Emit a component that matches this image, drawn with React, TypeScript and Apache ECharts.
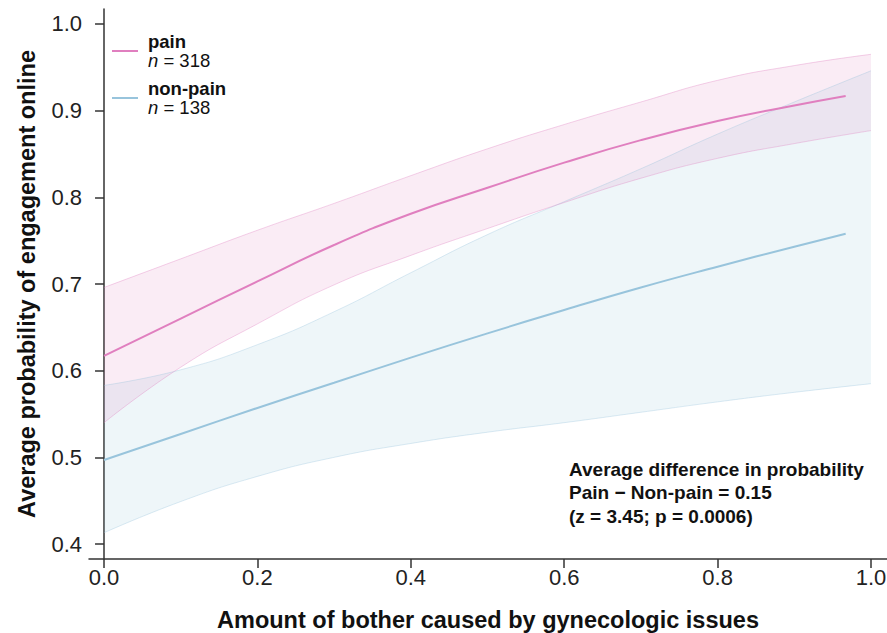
import React, { useEffect, useRef } from "react";
import * as echarts from "echarts";

// ---- data ----
const bandX = [0, 0.1, 0.2, 0.3, 0.4, 0.5, 0.6, 0.7, 0.8, 0.9, 1.0];
const painLower = [0.540, 0.604, 0.654, 0.699, 0.733, 0.764, 0.794, 0.822, 0.845, 0.862, 0.877];
const painUpper = [0.696, 0.729, 0.762, 0.793, 0.825, 0.856, 0.884, 0.910, 0.935, 0.952, 0.965];
const nonPainLower = [0.413, 0.449, 0.478, 0.500, 0.516, 0.529, 0.540, 0.552, 0.564, 0.575, 0.585];
const nonPainUpper = [0.583, 0.601, 0.630, 0.668, 0.713, 0.757, 0.795, 0.833, 0.873, 0.910, 0.946];

const lineX = [0, 0.1, 0.2, 0.3, 0.4, 0.5, 0.6, 0.7, 0.8, 0.9, 0.967];
const painMean = [0.617, 0.660, 0.703, 0.745, 0.781, 0.811, 0.840, 0.866, 0.888, 0.906, 0.917];
const nonPainMean = [0.497, 0.527, 0.557, 0.586, 0.615, 0.643, 0.670, 0.696, 0.720, 0.743, 0.758];

const groupNames = ["pain", "non-pain"];
const groupN = [318, 138];

const xTicks = [0, 0.2, 0.4, 0.6, 0.8, 1.0];
const yTicks = [0.4, 0.5, 0.6, 0.7, 0.8, 0.9, 1.0];

const annotationLines = [
  "Average difference in probability",
  "Pain \u2212 Non-pain = 0.15",
  "(z = 3.45; p = 0.0006)",
];

const FONT = "'Liberation Sans', Arial, Helvetica, sans-serif";
const PINK = "#e07fbf";
const BLUE = "#98c4dc";

// Band = stacked pair of smooth lines. The y value is put in the first
// column so that ECharts stacks y (not x) when both axes are numeric.
function bandSeries(key: string, lower: number[], upper: number[], fill: string, stroke: string) {
  return [
    {
      type: "line",
      name: key + " lower",
      stack: key,
      data: bandX.map((x, i) => [lower[i], x]),
      encode: { x: 1, y: 0 },
      smooth: true,
      symbol: "none",
      silent: true,
      lineStyle: { color: stroke, width: 1 },
      z: 1,
    },
    {
      type: "line",
      name: key + " upper",
      stack: key,
      data: bandX.map((x, i) => [upper[i] - lower[i], x]),
      encode: { x: 1, y: 0 },
      smooth: true,
      symbol: "none",
      silent: true,
      lineStyle: { color: stroke, width: 1 },
      areaStyle: { color: fill, opacity: 1 },
      z: 1,
    },
  ];
}

export default function App() {
  const ref = useRef<HTMLDivElement>(null);
  useEffect(() => {
    if (!ref.current) return;
    const chart = echarts.init(ref.current, undefined, { renderer: "svg" });
    const option: any = {
      animation: false,
      backgroundColor: "#ffffff",
      grid: { left: 89, right: 0, top: 9, bottom: 74, containLabel: false, outerBoundsMode: "none" },
      xAxis: {
        type: "value",
        min: -0.0196,
        max: 1.0209,
        name: "Amount of bother caused by gynecologic issues",
        nameLocation: "middle",
        nameGap: 49,
        nameTextStyle: { fontFamily: FONT, fontSize: 23.5, fontWeight: "bold", color: "#111" },
        axisLine: { show: true, lineStyle: { color: "#333", width: 1.5 } },
        axisTick: { show: true, length: 9, customValues: xTicks, lineStyle: { color: "#333", width: 1.5 } },
        axisLabel: {
          customValues: xTicks,
          margin: 7,
          fontFamily: FONT,
          fontSize: 22,
          color: "#222",
          formatter: (v: number) => v.toFixed(1),
        },
        splitLine: { show: false },
      },
      yAxis: {
        type: "value",
        min: 0.3827,
        max: 1.0173,
        name: "Average probability of engagement online",
        nameLocation: "middle",
        nameGap: 50,
        nameTextStyle: { fontFamily: FONT, fontSize: 23.5, fontWeight: "bold", color: "#111" },
        axisLine: { show: true, lineStyle: { color: "#333", width: 1.5 } },
        axisTick: { show: true, length: 9, customValues: yTicks, lineStyle: { color: "#333", width: 1.5 } },
        axisLabel: {
          customValues: yTicks,
          margin: 7,
          fontFamily: FONT,
          fontSize: 22,
          color: "#222",
          formatter: (v: number) => v.toFixed(1),
        },
        splitLine: { show: false },
      },
      legend: {
        data: groupNames,
        orient: "vertical",
        left: 107,
        top: 27,
        icon: "rect",
        itemWidth: 26,
        itemHeight: 2,
        itemGap: 9,
        selectedMode: false,
        formatter: (name: string) => {
          const i = groupNames.indexOf(name);
          return `{b|${name}}\n{i|n}{r| = ${groupN[i]}}`;
        },
        textStyle: {
          padding: [0, 0, 0, 5],
          rich: {
            b: { fontFamily: FONT, fontSize: 18.5, fontWeight: "bold", lineHeight: 19, color: "#111" },
            i: { fontFamily: FONT, fontSize: 18.5, fontStyle: "italic", lineHeight: 19, color: "#111" },
            r: { fontFamily: FONT, fontSize: 18.5, lineHeight: 19, color: "#111" },
          },
        },
      },
      graphic: [
        {
          type: "text",
          left: 569,
          top: 458,
          style: {
            text: annotationLines.join("\n"),
            fontFamily: FONT,
            fontSize: 19,
            fontWeight: "bold",
            lineHeight: 23.3,
            fill: "#111",
          },
        },
      ],
      series: [
        ...bandSeries("nonpain", nonPainLower, nonPainUpper, "rgba(152,196,220,0.16)", "rgba(152,196,220,0.35)"),
        ...bandSeries("pain", painLower, painUpper, "rgba(224,127,191,0.15)", "rgba(224,127,191,0.35)"),
        {
          type: "line",
          name: "pain",
          data: lineX.map((x, i) => [x, painMean[i]]),
          smooth: true,
          showSymbol: false,
          symbol: "none",
          color: PINK,
          lineStyle: { color: PINK, width: 2 },
          z: 3,
        },
        {
          type: "line",
          name: "non-pain",
          data: lineX.map((x, i) => [x, nonPainMean[i]]),
          smooth: true,
          showSymbol: false,
          symbol: "none",
          color: BLUE,
          lineStyle: { color: BLUE, width: 2 },
          z: 3,
        },
      ],
    };
    chart.setOption(option);
    return () => chart.dispose();
  }, []);
  return (
    <div
      ref={ref}
      style={{ position: "absolute", left: 0, top: 0, width: 887, height: 633, background: "#fff" }}
    />
  );
}
